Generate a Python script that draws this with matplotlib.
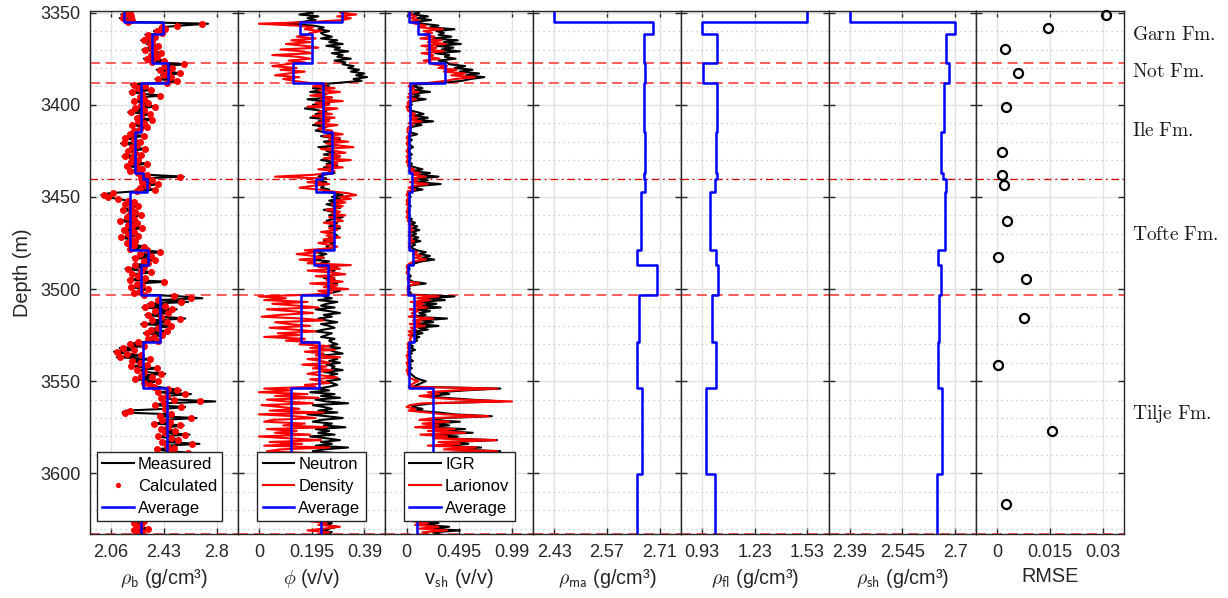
import numpy as np
import matplotlib
matplotlib.use("Agg")
import matplotlib.pyplot as plt
from matplotlib.ticker import MultipleLocator
from matplotlib.transforms import blended_transform_factory

plt.rcParams['font.family'] = ['Liberation Sans', 'DejaVu Sans']
plt.rcParams['mathtext.fontset'] = 'cm'

# ---------------------------------------------------------------- data
DEPTH_TOP = 3349.0      # first log sample (m)
STEP = 1.0              # log sampling interval (m)
YLIM = (3633.1, 3349.1)

# zone boundaries (m) used for the per-zone averages / inversion results
zone_bounds = [3349.0, 3355.3, 3361.7, 3377.5, 3388.1, 3415.0, 3437.1, 3440.3,
               3447.2, 3478.8, 3486.9, 3503.0, 3529.0, 3553.5, 3600.6, 3633.1]

# formation tops (m)
tops_main = [3377.5, 3388.1, 3503.0, 3633.1]
tops_sub = [3440.3]

formations = ['Garn Fm.', 'Not Fm.', 'Ile Fm.', 'Tofte Fm.', 'Tilje Fm.']
formation_depths = [3362.3, 3382.2, 3414.0, 3470.8, 3567.8]

rhob_measured = [
    2.15, 2.20, 2.13, 2.18, 2.12, 2.22, 2.16,
    2.74, 2.55, 2.40, 2.45, 2.36, 2.43,
    2.30, 2.38, 2.33, 2.27, 2.36, 2.31, 2.40, 2.34, 2.28, 2.37, 2.42, 2.33, 2.39, 2.29, 2.44, 2.36,
    2.58, 2.42, 2.50, 2.38, 2.47, 2.55, 2.41, 2.49, 2.37, 2.53, 2.44,
    2.20, 2.31, 2.24, 2.35, 2.19, 2.28, 2.42, 2.25, 2.30, 2.21, 2.33, 2.26, 2.38,
    2.22, 2.29, 2.18, 2.34, 2.27, 2.23, 2.36, 2.24, 2.30, 2.20, 2.32, 2.26, 2.21,
    2.24, 2.18, 2.30, 2.15, 2.22, 2.27, 2.13, 2.25, 2.20, 2.31, 2.17, 2.23,
    2.28, 2.14, 2.21, 2.26, 2.19, 2.33, 2.16, 2.24, 2.29, 2.18, 2.25,
    2.32, 2.57, 2.26,
    2.36, 2.27, 2.40, 2.30, 2.25, 2.38, 2.22,
    2.05, 1.99, 2.02, 2.10, 2.18, 2.23, 2.15, 2.26, 2.20, 2.13, 2.24, 2.19, 2.28, 2.16, 2.22, 2.11,
    2.25, 2.17, 2.21, 2.29, 2.14, 2.23, 2.18, 2.26, 2.12, 2.20, 2.24, 2.16, 2.22, 2.30, 2.19,
    2.30, 2.42, 2.25, 2.35, 2.21, 2.38, 2.28, 2.33,
    2.22, 2.30, 2.16, 2.27, 2.35, 2.20, 2.25, 2.31, 2.18, 2.45, 2.24, 2.29, 2.19, 2.33, 2.26, 2.21, 2.30,
    2.55, 2.70, 2.38, 2.60, 2.32, 2.45, 2.28, 2.52, 2.36, 2.48, 2.30, 2.42, 2.58,
    2.34, 2.46, 2.27, 2.50, 2.39, 2.33, 2.47, 2.29, 2.43, 2.36, 2.31, 2.40,
    2.25, 2.18, 2.30, 2.12, 2.22, 2.08, 2.16, 2.28, 2.10, 2.35, 2.20, 2.26, 2.32,
    2.19, 2.40, 2.24, 2.30, 2.44, 2.27, 2.36, 2.22, 2.41, 2.29, 2.34, 2.38,
    2.47, 2.55, 2.38, 2.62, 2.45, 2.40, 2.52, 2.79, 2.43, 2.36, 2.58, 2.44, 2.16, 2.14, 2.50, 2.39,
    2.66, 2.42, 2.48, 2.35, 2.57, 2.46, 2.40, 2.53, 2.44, 2.61, 2.38, 2.49, 2.55, 2.42, 2.68, 2.45,
    2.51, 2.37, 2.47, 2.64, 2.43, 2.56, 2.40, 2.50, 2.46, 2.33, 2.52, 2.41, 2.48, 2.44, 2.39,
    2.25, 2.33, 2.18, 2.29, 2.22, 2.36, 2.15, 2.28, 2.24, 2.31, 2.19, 2.27, 2.34, 2.21, 2.26, 2.30,
    2.17, 2.25, 2.32, 2.20, 2.28, 2.23, 2.35, 2.19, 2.26, 2.30, 2.22, 2.27, 2.24, 2.33, 2.21, 2.29, 2.25,
]

rhob_calculated = [
    2.17, 2.19, 2.15, 2.20, 2.14, 2.21, 2.18,
    2.70, 2.52, 2.42, 2.44, 2.38, 2.42,
    2.32, 2.37, 2.34, 2.29, 2.35, 2.33, 2.39, 2.35, 2.30, 2.36, 2.41, 2.34, 2.38, 2.31, 2.43, 2.35,
    2.57, 2.44, 2.49, 2.40, 2.46, 2.54, 2.43, 2.48, 2.39, 2.52, 2.45,
    2.22, 2.30, 2.25, 2.34, 2.21, 2.28, 2.40, 2.26, 2.29, 2.22, 2.32, 2.27, 2.37,
    2.23, 2.29, 2.20, 2.33, 2.27, 2.24, 2.35, 2.25, 2.29, 2.21, 2.31, 2.26, 2.22,
    2.23, 2.19, 2.29, 2.16, 2.22, 2.26, 2.15, 2.24, 2.21, 2.30, 2.18, 2.23,
    2.27, 2.16, 2.21, 2.25, 2.20, 2.31, 2.17, 2.24, 2.28, 2.19, 2.25,
    2.31, 2.54, 2.27,
    2.35, 2.28, 2.39, 2.31, 2.26, 2.37, 2.24,
    2.07, 2.01, 2.04, 2.11, 2.18, 2.22, 2.16, 2.25, 2.20, 2.14, 2.23, 2.19, 2.27, 2.17, 2.22, 2.12,
    2.24, 2.18, 2.21, 2.28, 2.15, 2.22, 2.18, 2.25, 2.13, 2.20, 2.23, 2.17, 2.22, 2.29, 2.19,
    2.31, 2.40, 2.26, 2.34, 2.23, 2.37, 2.29, 2.32,
    2.23, 2.29, 2.18, 2.27, 2.34, 2.21, 2.25, 2.30, 2.19, 2.43, 2.24, 2.28, 2.20, 2.32, 2.26, 2.22, 2.29,
    2.50, 2.62, 2.39, 2.55, 2.34, 2.44, 2.30, 2.49, 2.37, 2.46, 2.32, 2.41, 2.54,
    2.35, 2.45, 2.29, 2.48, 2.39, 2.34, 2.45, 2.31, 2.42, 2.36, 2.32, 2.39,
    2.25, 2.19, 2.29, 2.14, 2.22, 2.10, 2.17, 2.27, 2.12, 2.33, 2.21, 2.26, 2.31,
    2.20, 2.38, 2.24, 2.29, 2.41, 2.27, 2.35, 2.23, 2.39, 2.29, 2.33, 2.36,
    2.46, 2.52, 2.39, 2.58, 2.45, 2.41, 2.50, 2.68, 2.43, 2.37, 2.55, 2.44, 2.19, 2.16, 2.48, 2.40,
    2.62, 2.42, 2.47, 2.36, 2.54, 2.46, 2.41, 2.51, 2.44, 2.58, 2.39, 2.48, 2.53, 2.42, 2.63, 2.45,
    2.50, 2.38, 2.47, 2.60, 2.43, 2.54, 2.41, 2.49, 2.46, 2.35, 2.50, 2.42, 2.47, 2.44, 2.40,
    2.26, 2.32, 2.19, 2.28, 2.23, 2.34, 2.17, 2.28, 2.24, 2.30, 2.20, 2.27, 2.33, 2.22, 2.26, 2.29,
    2.18, 2.25, 2.31, 2.21, 2.28, 2.23, 2.34, 2.20, 2.26, 2.29, 2.22, 2.27, 2.24, 2.32, 2.22, 2.28, 2.25,
]

phi_neutron = [
    0.17, 0.20, 0.15, 0.22, 0.18, 0.21, 0.16,
    0.10, 0.20, 0.24, 0.22, 0.26, 0.23,
    0.24, 0.27, 0.23, 0.29, 0.26, 0.31, 0.25, 0.30, 0.28, 0.33, 0.27, 0.31, 0.29, 0.34, 0.28, 0.32,
    0.31, 0.35, 0.33, 0.37, 0.34, 0.39, 0.36, 0.40, 0.35, 0.38, 0.30,
    0.22, 0.26, 0.20, 0.24, 0.19, 0.25, 0.21, 0.27, 0.18, 0.23, 0.26, 0.20, 0.24,
    0.17, 0.22, 0.25, 0.21, 0.23, 0.19, 0.26, 0.22, 0.24, 0.20, 0.25, 0.23, 0.21,
    0.25, 0.28, 0.23, 0.27, 0.30, 0.24, 0.26, 0.29, 0.22, 0.27, 0.25, 0.28,
    0.24, 0.30, 0.26, 0.23, 0.28, 0.25, 0.29, 0.24, 0.27, 0.26, 0.28,
    0.24, 0.22, 0.25,
    0.22, 0.25, 0.21, 0.24, 0.23, 0.26, 0.24,
    0.28, 0.31, 0.27, 0.30, 0.26, 0.29, 0.25, 0.28, 0.30, 0.24, 0.27, 0.29, 0.26, 0.31, 0.27, 0.25,
    0.29, 0.28, 0.26, 0.30, 0.27, 0.25, 0.28, 0.29, 0.26, 0.27, 0.24, 0.28, 0.26, 0.25, 0.27,
    0.23, 0.21, 0.25, 0.22, 0.24, 0.20, 0.26, 0.23,
    0.26, 0.29, 0.25, 0.28, 0.27, 0.30, 0.26, 0.24, 0.28, 0.27, 0.29, 0.25, 0.28, 0.26, 0.30, 0.27, 0.25,
    0.24, 0.27, 0.22, 0.29, 0.25, 0.23, 0.28, 0.21, 0.26, 0.30, 0.24, 0.27, 0.22,
    0.25, 0.29, 0.23, 0.26, 0.28, 0.24, 0.21, 0.27, 0.25, 0.23, 0.28, 0.26,
    0.27, 0.29, 0.25, 0.30, 0.26, 0.28, 0.31, 0.24, 0.27, 0.29, 0.26, 0.30, 0.25,
    0.28, 0.27, 0.31, 0.24, 0.29, 0.26, 0.28, 0.30, 0.25, 0.27, 0.29, 0.26,
    0.22, 0.26, 0.19, 0.28, 0.23, 0.30, 0.21, 0.25, 0.33, 0.20, 0.24, 0.27, 0.22, 0.29, 0.18, 0.25,
    0.31, 0.23, 0.20, 0.27, 0.24, 0.32, 0.21, 0.26, 0.22, 0.28, 0.19, 0.25, 0.30, 0.23, 0.27, 0.21,
    0.33, 0.24, 0.20, 0.28, 0.25, 0.31, 0.22, 0.26, 0.29, 0.23, 0.27, 0.24, 0.28, 0.25, 0.26,
    0.25, 0.28, 0.23, 0.27, 0.26, 0.29, 0.24, 0.27, 0.25, 0.28, 0.23, 0.26, 0.29, 0.24, 0.27, 0.25,
    0.28, 0.26, 0.24, 0.27, 0.25, 0.29, 0.23, 0.26, 0.28, 0.24, 0.27, 0.25, 0.29, 0.26, 0.24, 0.27, 0.25,
]

phi_density = [
    0.33, 0.30, 0.36, 0.29, 0.34, 0.31, 0.20,
    0.00, 0.14, 0.20, 0.17, 0.23, 0.19,
    0.18, 0.14, 0.21, 0.12, 0.19, 0.10, 0.17, 0.22, 0.08, 0.16, 0.20, 0.05, 0.15, 0.19, 0.11, 0.17,
    0.10, 0.05, 0.14, 0.08, 0.17, 0.11, 0.06, 0.15, 0.09, 0.13, 0.18,
    0.25, 0.20, 0.28, 0.22, 0.30, 0.24, 0.19, 0.27, 0.23, 0.31, 0.21, 0.26, 0.18,
    0.29, 0.24, 0.22, 0.27, 0.20, 0.28, 0.23, 0.26, 0.21, 0.29, 0.24, 0.22, 0.27,
    0.27, 0.31, 0.24, 0.30, 0.26, 0.33, 0.25, 0.29, 0.35, 0.23, 0.28, 0.32,
    0.26, 0.30, 0.24, 0.34, 0.27, 0.29, 0.25, 0.31, 0.22, 0.28, 0.26,
    0.20, 0.06, 0.24,
    0.23, 0.18, 0.26, 0.20, 0.15, 0.22, 0.27,
    0.33, 0.36, 0.30, 0.34, 0.28, 0.32, 0.27, 0.31, 0.29, 0.25, 0.30, 0.27, 0.32, 0.26, 0.29, 0.31,
    0.24, 0.28, 0.30, 0.26, 0.29, 0.23, 0.27, 0.25, 0.30, 0.24, 0.28, 0.22, 0.26, 0.29, 0.25,
    0.17, 0.22, 0.14, 0.20, 0.24, 0.15, 0.21, 0.18,
    0.34, 0.22, 0.30, 0.18, 0.27, 0.32, 0.21, 0.28, 0.25, 0.31, 0.19, 0.29, 0.24, 0.33, 0.22, 0.27, 0.20,
    0.00, 0.10, 0.02, 0.18, 0.05, 0.14, 0.22, 0.03, 0.12, 0.20, 0.08, 0.01, 0.16,
    0.24, 0.06, 0.11, 0.19, 0.04, 0.13, 0.21, 0.07, 0.15, 0.02, 0.17, 0.10,
    0.22, 0.15, 0.26, 0.19, 0.28, 0.17, 0.24, 0.21, 0.30, 0.18, 0.23, 0.26, 0.16,
    0.25, 0.20, 0.27, 0.22, 0.18, 0.24, 0.29, 0.19, 0.23, 0.26, 0.17, 0.21,
    0.02, 0.12, 0.00, 0.18, 0.06, 0.22, 0.03, 0.10, 0.20, 0.01, 0.08, 0.15, 0.04, 0.24, 0.00, 0.13,
    0.21, 0.05, 0.02, 0.17, 0.09, 0.25, 0.03, 0.14, 0.06, 0.19, 0.00, 0.11, 0.23, 0.04, 0.16, 0.02,
    0.26, 0.08, 0.03, 0.18, 0.10, 0.22, 0.05, 0.14, 0.20, 0.07, 0.17, 0.12, 0.21, 0.15, 0.18,
    0.20, 0.26, 0.15, 0.24, 0.22, 0.28, 0.12, 0.23, 0.19, 0.27, 0.16, 0.22, 0.29, 0.18, 0.25, 0.21,
    0.27, 0.23, 0.17, 0.26, 0.20, 0.28, 0.14, 0.24, 0.27, 0.19, 0.25, 0.22, 0.30, 0.24, 0.18, 0.26, 0.22,
]

vsh_igr = [
    0.05, 0.12, 0.06, 0.20, 0.10, 0.23, 0.08,
    0.15, 0.30, 0.22, 0.45, 0.28, 0.35,
    0.30, 0.42, 0.25, 0.48, 0.35, 0.51, 0.28, 0.44, 0.33, 0.50, 0.27, 0.40, 0.36, 0.46, 0.30, 0.38,
    0.40, 0.55, 0.45, 0.62, 0.50, 0.68, 0.56, 0.73, 0.60, 0.52, 0.35,
    0.10, 0.06, 0.15, 0.08, 0.22, 0.05, 0.12, 0.04, 0.18, 0.06, 0.03, 0.05, 0.02,
    0.04, 0.03, 0.10, 0.16, 0.07, 0.20, 0.09, 0.25, 0.06, 0.14, 0.05, 0.04, 0.03,
    0.04, 0.10, 0.03, 0.02, 0.05, 0.03, 0.02, 0.04, 0.06, 0.03, 0.02, 0.03,
    0.05, 0.02, 0.04, 0.03, 0.02, 0.05, 0.03, 0.08, 0.15, 0.05, 0.22,
    0.12, 0.30, 0.10,
    0.20, 0.08, 0.32, 0.12, 0.06, 0.15, 0.04,
    0.03, 0.02, 0.04, 0.02, 0.01, 0.03, 0.02, 0.04, 0.02, 0.03, 0.01, 0.02, 0.03, 0.02, 0.05, 0.03,
    0.08, 0.04, 0.10, 0.06, 0.12, 0.05, 0.09, 0.04, 0.11, 0.06, 0.13, 0.05, 0.08, 0.04, 0.06,
    0.10, 0.18, 0.12, 0.22, 0.15, 0.26, 0.14, 0.08,
    0.02, 0.01, 0.03, 0.02, 0.01, 0.02, 0.04, 0.02, 0.03, 0.06, 0.18, 0.04, 0.02, 0.03, 0.02, 0.04, 0.03,
    0.45, 0.20, 0.36, 0.10, 0.28, 0.15, 0.32, 0.08, 0.22, 0.12, 0.18, 0.06, 0.38,
    0.14, 0.25, 0.09, 0.30, 0.11, 0.20, 0.07, 0.15, 0.05, 0.12, 0.08, 0.10,
    0.05, 0.03, 0.06, 0.04, 0.08, 0.03, 0.05, 0.02, 0.04, 0.03, 0.06, 0.02, 0.04,
    0.03, 0.05, 0.02, 0.03, 0.04, 0.06, 0.08, 0.12, 0.18, 0.14, 0.10, 0.06,
    0.88, 0.55, 0.30, 0.40, 0.20, 0.35, 0.60, 0.90, 0.25, 0.10, 0.05, 0.15, 0.08, 0.30, 0.45, 0.80,
    0.35, 0.20, 0.50, 0.25, 0.40, 0.15, 0.55, 0.30, 0.62, 0.22, 0.48, 0.35, 0.85, 0.40, 0.58, 0.30,
    0.70, 0.45, 0.88, 0.38, 0.55, 0.25, 0.42, 0.18, 0.30, 0.12, 0.25, 0.08, 0.20, 0.10, 0.15,
    0.35, 0.20, 0.12, 0.28, 0.10, 0.15, 0.08, 0.22, 0.12, 0.06, 0.10, 0.05, 0.14, 0.08, 0.18, 0.06,
    0.10, 0.04, 0.12, 0.08, 0.20, 0.10, 0.15, 0.06, 0.25, 0.12, 0.30, 0.15, 0.40, 0.20, 0.50, 0.25, 0.30,
]

vsh_larionov = [
    0.02, 0.05, 0.02, 0.09, 0.04, 0.11, 0.03,
    0.08, 0.18, 0.12, 0.34, 0.16, 0.24,
    0.16, 0.26, 0.13, 0.33, 0.20, 0.37, 0.14, 0.28, 0.19, 0.35, 0.14, 0.25, 0.21, 0.31, 0.16, 0.23,
    0.25, 0.38, 0.30, 0.47, 0.35, 0.55, 0.42, 0.64, 0.46, 0.37, 0.22,
    0.04, 0.02, 0.07, 0.03, 0.11, 0.02, 0.05, 0.01, 0.09, 0.02, 0.01, 0.02, 0.00,
    0.01, 0.01, 0.04, 0.08, 0.03, 0.10, 0.04, 0.14, 0.02, 0.06, 0.02, 0.01, 0.01,
    0.01, 0.04, 0.01, 0.00, 0.02, 0.01, 0.00, 0.01, 0.02, 0.01, 0.00, 0.01,
    0.02, 0.00, 0.01, 0.01, 0.00, 0.02, 0.01, 0.03, 0.07, 0.02, 0.12,
    0.06, 0.18, 0.05,
    0.10, 0.03, 0.20, 0.06, 0.02, 0.08, 0.01,
    0.01, 0.00, 0.02, 0.01, 0.00, 0.01, 0.00, 0.02, 0.01, 0.01, 0.00, 0.01, 0.01, 0.00, 0.02, 0.01,
    0.04, 0.02, 0.05, 0.03, 0.06, 0.02, 0.04, 0.02, 0.05, 0.03, 0.07, 0.02, 0.04, 0.02, 0.03,
    0.04, 0.10, 0.06, 0.14, 0.08, 0.18, 0.07, 0.03,
    0.01, 0.00, 0.01, 0.01, 0.00, 0.01, 0.02, 0.01, 0.01, 0.03, 0.12, 0.02, 0.01, 0.01, 0.01, 0.02, 0.01,
    0.30, 0.10, 0.22, 0.04, 0.16, 0.07, 0.19, 0.03, 0.11, 0.05, 0.09, 0.02, 0.25,
    0.06, 0.13, 0.03, 0.17, 0.04, 0.09, 0.02, 0.06, 0.02, 0.05, 0.03, 0.04,
    0.02, 0.01, 0.02, 0.01, 0.03, 0.01, 0.02, 0.00, 0.01, 0.01, 0.02, 0.00, 0.01,
    0.01, 0.02, 0.00, 0.01, 0.01, 0.02, 0.03, 0.06, 0.11, 0.07, 0.04, 0.02,
    0.85, 0.45, 0.20, 0.30, 0.12, 0.25, 0.50, 0.99, 0.15, 0.03, 0.00, 0.08, 0.02, 0.20, 0.35, 0.77,
    0.25, 0.12, 0.40, 0.15, 0.30, 0.08, 0.45, 0.20, 0.55, 0.13, 0.38, 0.25, 0.84, 0.30, 0.50, 0.20,
    0.65, 0.35, 0.85, 0.28, 0.45, 0.15, 0.32, 0.10, 0.20, 0.05, 0.15, 0.03, 0.12, 0.04, 0.08,
    0.25, 0.12, 0.06, 0.18, 0.05, 0.08, 0.04, 0.13, 0.06, 0.03, 0.05, 0.02, 0.07, 0.04, 0.10, 0.03,
    0.05, 0.02, 0.06, 0.04, 0.12, 0.05, 0.08, 0.03, 0.15, 0.06, 0.20, 0.08, 0.30, 0.12, 0.38, 0.15, 0.20,
]

# per-zone averages / inverted parameters (one value per zone)
rhob_avg = [2.148, 2.421, 2.344, 2.458, 2.272, 2.228, 2.286, 2.314,
            2.193, 2.316, 2.269, 2.404, 2.281, 2.449, 2.270]
phi_avg = [0.306, 0.154, 0.197, 0.126, 0.239, 0.269, 0.234, 0.212,
           0.277, 0.204, 0.257, 0.155, 0.223, 0.120, 0.229]
vsh_avg = [0.025, 0.103, 0.209, 0.364, 0.037, 0.019, 0.050, 0.056,
           0.022, 0.062, 0.016, 0.067, 0.023, 0.249, 0.097]
rho_ma = [2.430, 2.693, 2.667, 2.672, 2.667, 2.672, 2.669, 2.671,
          2.661, 2.649, 2.704, 2.656, 2.649, 2.662, 2.650]
rho_fl = [1.530, 0.930, 1.017, 0.934, 1.017, 1.009, 1.017, 1.002,
          0.977, 1.011, 1.019, 0.985, 1.011, 0.951, 1.004]
rho_sh = [2.390, 2.699, 2.673, 2.681, 2.668, 2.657, 2.665, 2.672,
          2.669, 2.650, 2.658, 2.651, 2.649, 2.661, 2.648]
rmse = [0.0309, 0.0143, 0.0023, 0.0059, 0.0024, 0.0013, 0.0012, 0.0020,
        0.0027, 0.0001, 0.0082, 0.0077, 0.0002, 0.0156, 0.0025]
rmse_depth = [3351.3, 3358.3, 3369.7, 3382.6, 3401.3, 3425.4, 3438.1, 3443.8,
              3463.1, 3482.8, 3494.5, 3515.7, 3541.1, 3577.3, 3616.9]

# x ticks for each track
track_ticks = [
    ([2.06, 2.43, 2.80], ['2.06', '2.43', '2.8']),
    ([0.0, 0.195, 0.39], ['0', '0.195', '0.39']),
    ([0.0, 0.495, 0.99], ['0', '0.495', '0.99']),
    ([2.43, 2.57, 2.71], ['2.43', '2.57', '2.71']),
    ([0.93, 1.23, 1.53], ['0.93', '1.23', '1.53']),
    ([2.39, 2.545, 2.70], ['2.39', '2.545', '2.7']),
    ([0.0, 0.015, 0.03], ['0', '0.015', '0.03']),
]
track_labels = [
    r'$\rho_{\mathsf{b}}$ (g/cm³)',
    r'$\phi$ (v/v)',
    r'v$_{\mathsf{sh}}$ (v/v)',
    r'$\rho_{\mathsf{ma}}$ (g/cm³)',
    r'$\rho_{\mathsf{fl}}$ (g/cm³)',
    r'$\rho_{\mathsf{sh}}$ (g/cm³)',
    'RMSE',
]


def depth_of(curve):
    return DEPTH_TOP + STEP * np.arange(len(curve))


def zone_steps(values):
    """Vertical step line through the zones."""
    y = np.repeat(zone_bounds, 2)[1:-1]
    x = np.repeat(values, 2)
    return x, y


# ---------------------------------------------------------------- figure
fig = plt.figure(figsize=(12.28, 5.98), dpi=100)
left, right = 90 / 1228, 1124 / 1228
bottom, top = 1 - 534.3 / 598, 1 - 11 / 598
w = (right - left) / 7
axes = [fig.add_axes([left + i * w, bottom, w, top - bottom]) for i in range(7)]

FRAME = '#262626'
BLUE = '#0000ff'
RED = '#ff0000'

for i, ax in enumerate(axes):
    ticks, labels = track_ticks[i]
    lo, hi = ticks[0], ticks[-1]
    pad = 0.2 * (hi - lo)
    ax.set_xlim(lo - pad, hi + pad)
    ax.set_ylim(*YLIM)
    ax.set_xticks(ticks)
    ax.set_xticklabels(labels)
    ax.set_yticks(np.arange(3350, 3601, 50))
    ax.yaxis.set_minor_locator(MultipleLocator(10))
    ax.tick_params(which='major', direction='in', length=4.5, width=1.0,
                   top=True, right=True, colors=FRAME, labelsize=13,
                   labelcolor='#262626', pad=7)
    ax.tick_params(which='minor', length=0)
    ax.grid(which='major', color='#e2e2e2', lw=1.0, ls='-')
    ax.grid(which='minor', axis='y', color='#c4c4c4', lw=0.9, ls=(0, (1, 3)))
    ax.set_axisbelow(True)
    for sp in ax.spines.values():
        sp.set_color(FRAME)
        sp.set_linewidth(1.0)
    if i > 0:
        ax.tick_params(labelleft=False)
    ax.set_xlabel(track_labels[i], fontsize=14.3, color='#262626', labelpad=4)
    for d in tops_main:
        ax.axhline(d, color='#ff4040', lw=1.2, ls=(0, (6, 3.5)), zorder=1.5)
    for d in tops_sub:
        ax.axhline(d, color='#e00000', lw=0.9, ls=(0, (6, 3, 1.5, 3)), zorder=1.5)

axes[0].set_ylabel('Depth (m)', fontsize=14.3, color='#262626', labelpad=6)
axes[0].tick_params(axis='y', labelsize=13)

# track 1: bulk density
ax = axes[0]
ax.plot(rhob_measured, depth_of(rhob_measured), color='k', lw=1.5, label='Measured')
ax.plot(rhob_calculated, depth_of(rhob_calculated), ls='none', marker='o',
        ms=4.0, mfc=RED, mec=RED, label='Calculated')
ax.plot(*zone_steps(rhob_avg), color=BLUE, lw=1.8, label='Average')

# track 2: porosity
ax = axes[1]
ax.plot(phi_neutron, depth_of(phi_neutron), color='k', lw=1.5, label='Neutron')
ax.plot(phi_density, depth_of(phi_density), color=RED, lw=1.5, label='Density')
ax.plot(*zone_steps(phi_avg), color=BLUE, lw=1.8, label='Average')

# track 3: shale volume
ax = axes[2]
ax.plot(vsh_igr, depth_of(vsh_igr), color='k', lw=1.5, label='IGR')
ax.plot(vsh_larionov, depth_of(vsh_larionov), color=RED, lw=1.5, label='Larionov')
ax.plot(*zone_steps(vsh_avg), color=BLUE, lw=1.8, label='Average')

for k in range(3):
    leg = axes[k].legend(loc='lower center', bbox_to_anchor=(0.5 if k else 0.47, 0.025),
                         borderaxespad=0, fontsize=12, frameon=True, fancybox=False,
                         edgecolor=FRAME, framealpha=1, handlelength=1.9,
                         handletextpad=0.25, labelspacing=0.42, borderpad=0.32,
                         markerscale=0.7)
    leg.get_frame().set_linewidth(1.0)

# tracks 4-6: inverted matrix, fluid and shale densities
for ax, vals in zip(axes[3:6], [rho_ma, rho_fl, rho_sh]):
    ax.plot(*zone_steps(vals), color=BLUE, lw=1.8)

# track 7: misfit
ax = axes[6]
ax.plot(rmse, rmse_depth, ls='none', marker='o', ms=6.5, mfc='none',
        mec='k', mew=1.6, clip_on=False, zorder=5)

# formation names
trans = blended_transform_factory(axes[6].transAxes, axes[6].transData)
for name, d in zip(formations, formation_depths):
    axes[6].text(1.052, d, r'$\mathrm{' + name.replace(' ', r'\ ') + '}$',
                 transform=trans, fontsize=14, va='center', ha='left', color='#1a1a1a')

fig.savefig('out.png', dpi=100)
